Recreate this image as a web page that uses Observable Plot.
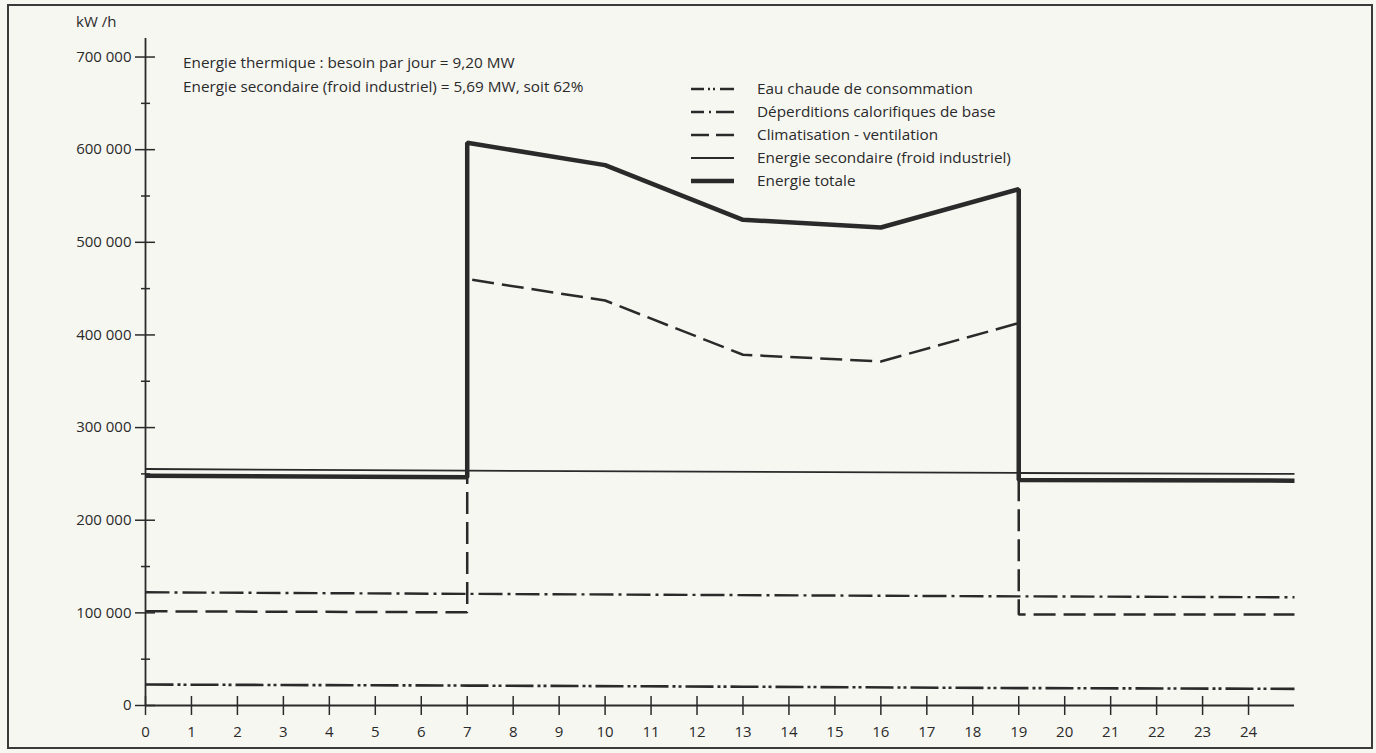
<!DOCTYPE html>
<html>
<head>
<meta charset="utf-8">
<script src="https://cdn.jsdelivr.net/npm/d3@7"></script>
<script src="https://cdn.jsdelivr.net/npm/@observablehq/plot@0.6"></script>
<style>
  html, body { margin: 0; padding: 0; background: #f7f7f2; }
  #wrap { position: relative; width: 1376px; height: 753px; overflow: hidden;
          font-family: "Open Sans", "DejaVu Sans", sans-serif; color: #2a2a2a; }
  #frame { position: absolute; left: 7px; top: 4px; width: 1362px; height: 741px;
           border: 2px solid #3a3a3a; }
  #chart { position: absolute; left: 0; top: 0; }
  #unit { position: absolute; left: 76px; top: 11px; font-size: 15px; }
  #notes { position: absolute; left: 183px; top: 50px; font-size: 15.3px; line-height: 24px; }
  #legend { position: absolute; left: 690px; top: 77px; font-size: 15.3px; }
  .row { position: relative; height: 23px; line-height: 23px; }
  .row svg { position: absolute; left: 0; top: 6px; }
  .row span { position: absolute; left: 67px; top: 0; white-space: nowrap; }
</style>
</head>
<body>
<div id="wrap">
  <div id="chart"></div>
  <div id="frame"></div>
  <div id="unit"></div>
  <div id="notes"></div>
  <div id="legend"></div>
</div>
<script>
// ---- data ----
const xTicks = [0,1,2,3,4,5,6,7,8,9,10,11,12,13,14,15,16,17,18,19,20,21,22,23,24];
const yTicksMajor = [0,100000,200000,300000,400000,500000,600000,700000];
const yTicksMinor = [50000,150000,250000,350000,450000,550000,650000];

const eauHours   = [0, 7, 13, 19, 25];
const eauValues  = [22600, 21500, 20300, 18800, 18000];

const deperHours  = [0, 7, 19, 25];
const deperValues = [122200, 120500, 117800, 116800];

const climHours  = [0, 7, 7, 10, 13, 16, 19, 19, 25];
const climValues = [101700, 100600, 460300, 437200, 378600, 371400, 412800, 98300, 98200];

const secHours  = [0, 7, 19, 25];
const secValues = [255300, 253500, 251000, 250000];

const totHours  = [0, 7, 7, 10, 13, 16, 19, 19, 25];
const totValues = [248100, 246300, 607500, 583300, 524300, 516000, 557400, 243500, 242700];

const unitLabel = "kW /h";
const notes = [
  "Energie thermique : besoin par jour = 9,20 MW",
  "Energie secondaire (froid industriel) = 5,69 MW, soit 62%"
];
const legendLabels = [
  "Eau chaude de consommation",
  "Déperditions calorifiques de base",
  "Climatisation - ventilation",
  "Energie secondaire (froid industriel)",
  "Energie totale"
];

// ---- styles ----
const INK = "#2a2a2a";
const W = 1376, H = 753, ML = 145, MR = 82, MT = 38, MB = 48;
const frameW = W - ML - MR, frameH = H - MT - MB;
const styles = [
  {width: 2.6, dash: "28,4,3,3,3,4", legendDash: "13,4,2,3,2,5,16"},
  {width: 2.4, dash: "24,5,3,5", legendDash: "13,5,2,5,20"},
  {width: 2.5, dash: "22,8", legendDash: "18,7,20"},
  {width: 1.8, dash: null, legendDash: null},
  {width: 4.5, dash: null, legendDash: null}
];

const zip = (xs, ys) => xs.map((x, i) => ({x, y: ys[i]}));
const series = [
  zip(eauHours, eauValues),
  zip(deperHours, deperValues),
  zip(climHours, climValues),
  zip(secHours, secValues),
  zip(totHours, totValues)
];

const fmtY = d => d3.format(",")(d).replace(/,/g, " ");

const lineMarks = series.map((data, i) => Plot.line(data, {
  x: "x", y: "y", stroke: INK, strokeWidth: styles[i].width,
  strokeDasharray: styles[i].dash || undefined,
  strokeLinejoin: "miter", strokeLinecap: "butt"
}));

const chart = Plot.plot({
  width: W,
  height: H,
  marginLeft: ML,
  marginRight: MR,
  marginTop: MT,
  marginBottom: MB,
  style: {background: "transparent", color: INK, fontFamily: '"Open Sans", "DejaVu Sans", sans-serif', fontSize: "15px"},
  x: {domain: [0, 25], axis: null},
  y: {domain: [0, 720000], axis: null},
  marks: [
    // axis lines
    Plot.ruleY([0], {stroke: INK, strokeWidth: 1.8}),
    Plot.ruleX([0], {stroke: INK, strokeWidth: 1.8}),
    // x ticks crossing the axis line
    Plot.ruleX(xTicks, {x: d => d, stroke: INK, strokeWidth: 1.5, insetTop: frameH - 9, insetBottom: -10}),
    Plot.axisX(xTicks, {anchor: "bottom", tickSize: 0, tickPadding: 21, tickFormat: d => String(d), fill: INK, fontSize: 15, label: null}),
    // y ticks crossing the axis line
    Plot.ruleY(yTicksMajor, {y: d => d, stroke: INK, strokeWidth: 1.5, insetLeft: -10, insetRight: frameW - 10}),
    Plot.ruleY(yTicksMinor, {y: d => d, stroke: INK, strokeWidth: 1.5, insetLeft: -4, insetRight: frameW - 5}),
    Plot.axisY(yTicksMajor, {anchor: "left", tickSize: 0, tickPadding: 14, tickFormat: fmtY, fill: INK, fontSize: 15, label: null}),
    ...lineMarks
  ]
});
document.getElementById("chart").appendChild(chart);

// ---- overlay texts ----
document.getElementById("unit").textContent = unitLabel;
document.getElementById("notes").innerHTML = notes.map(t => `<div>${t}</div>`).join("");

const legend = document.getElementById("legend");
legendLabels.forEach((label, i) => {
  const row = document.createElement("div");
  row.className = "row";
  const s = styles[i];
  row.innerHTML = `<svg width="46" height="12"><line x1="1" x2="44" y1="6" y2="6" stroke="${INK}" stroke-width="${s.width}" ${s.legendDash ? `stroke-dasharray="${s.legendDash}"` : ""}/></svg><span>${label}</span>`;
  legend.appendChild(row);
});
</script>
</body>
</html>
